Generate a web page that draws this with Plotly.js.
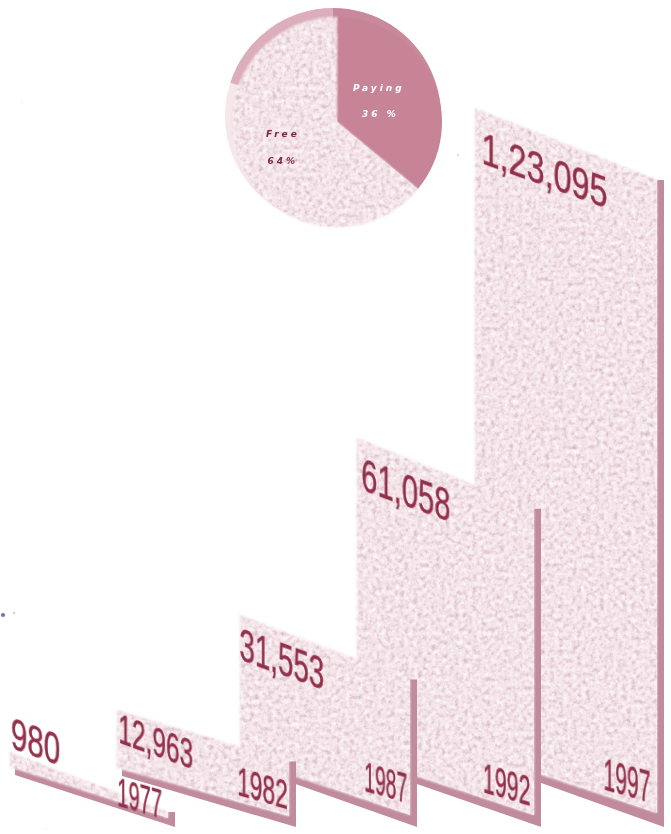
<!DOCTYPE html>
<html>
<head>
<meta charset="utf-8">
<script src="https://cdn.plot.ly/plotly-3.0.1.min.js"></script>
<style>
html,body{margin:0;padding:0;background:#fff}
#chart{width:671px;height:834px}
.annotation[data-index="10"] text,.annotation[data-index="11"] text,
.annotation[data-index="12"] text,.annotation[data-index="13"] text{letter-spacing:3px;filter:blur(0.35px)}
.scatterlayer .trace:nth-child(even) .js-fill,.pielayer .slice path{filter:url(#mottle)}
.scatterlayer .trace:nth-child(odd) .js-fill,.pielayer .trace .slice:nth-child(1) path,
.pielayer .trace:first-child .slice path{filter:url(#soft)}
</style>
</head>
<body>
<svg width="0" height="0" style="position:absolute">
  <defs>
    <filter id="soft" x="-3%" y="-3%" width="106%" height="106%">
      <feGaussianBlur in="SourceGraphic" stdDeviation="0.7"/>
    </filter>
    <filter id="mottle" x="-3%" y="-3%" width="106%" height="106%" color-interpolation-filters="sRGB">
      <feGaussianBlur in="SourceGraphic" stdDeviation="0.8" result="soft"/>
      <feTurbulence type="fractalNoise" baseFrequency="0.22" numOctaves="3" seed="4" result="n"/>
      <feGaussianBlur in="n" stdDeviation="0.6" result="nb"/>
      <feColorMatrix in="nb" type="matrix" values="0 0 0 0 0.78  0 0 0 0 0.66  0 0 0 0 0.70  1.5 0 0 0 -0.62" result="spots"/>
      <feComposite in="spots" in2="soft" operator="in" result="s"/>
      <feColorMatrix in="nb" type="matrix" values="0 0 0 0 1  0 0 0 0 1  0 0 0 0 1  0 1.6 0 0 -0.62" result="lights"/>
      <feComposite in="lights" in2="soft" operator="in" result="l"/>
      <feMerge><feMergeNode in="soft"/><feMergeNode in="s"/><feMergeNode in="l"/></feMerge>
    </filter>
  </defs>
</svg>
<div id="chart"></div>
<script>
// ---- data ----
var years = ["1977","1982","1987","1992","1997"];
var valueLabels = ["980","12,963","31,553","61,058","1,23,095"];
// bar heights as actually drawn (the picture is not to scale at the low end), in value units
var drawnValues = [2860, 11070, 27290, 60880, 123095];
var pieLabels = ["Paying","Free"];
var pieValues = [36, 64];
var pieTexts = ["36 %","64%"];

// ---- layout geometry (page pixels) ----
var W = 671, H = 834;
var unit = 123095 / 645;                 // value units per pixel
function Y(p){ return (H - p) * unit; }  // page pixel to y-axis value
var barLeft   = [10, 117, 240, 357, 475];
var barRight  = [168, 289, 410, 534, 657];
var baseLeft  = [767, 768, 758, 757, 753];
var baseRight = [818, 816, 815, 815, 813];
var topSlopes = [0.38, 0.30, 0.38, 0.40, 0.395];
var sideW = 7, floorY = 827;
// centre x, centre y, font size, horizontal squeeze
var valuePos = [[35,741,45,0.66],[156,741,43,0.57],[282,658,47,0.59],[406,489,47,0.62],[544,170,45,0.72]];
var yearPos  = [[139,798,41,0.49],[262,788,40,0.57],[385,782,42,0.46],[506,784,42,0.51],[627,780,44,0.48]];

var FACE = "#f6e5ea", SHADOW = "#c08b9d", INK = "#92304b";
var traces = [], annotations = [];

// condensed, sheared lettering of the bar labels
var css = "";
function labelStyle(idx, squeeze, skew){
  css += '.annotation[data-index="'+idx+'"] text{transform-box:fill-box;transform-origin:center;' +
         'stroke:'+INK+';stroke-width:0.5px;filter:blur(0.4px);' +
         'transform:skewY('+skew+'deg) scaleX('+squeeze+')}\n';
}
for (var k = 0; k < years.length; k++) {
  labelStyle(2*k, valuePos[k][3], 20);
  labelStyle(2*k+1, yearPos[k][3], 16);
}
var st = document.createElement("style"); st.textContent = css; document.head.appendChild(st);

function poly(xs, ys, fill){
  return {type:"scatter", mode:"lines", x:xs, y:ys, fill:"toself", fillcolor:fill,
          line:{width:0}, hoverinfo:"skip", showlegend:false};
}

// back to front: 1997 first, 1977 last
for (var i = years.length - 1; i >= 0; i--) {
  var L = barLeft[i], R = barRight[i], w = R - L;
  var topL = Y(baseLeft[i]) + drawnValues[i];
  var topR = topL - topSlopes[i] * w * unit;
  traces.push(poly(
    [R, R + sideW, R + sideW, L + 5, L + 5, R, R],
    [topR, topR, Y(floorY), Y(baseLeft[i] + 8), Y(baseLeft[i]), Y(baseRight[i]), topR],
    SHADOW));
  traces.push(poly([L, R, R, L, L], [topL, topR, Y(baseRight[i]), Y(baseLeft[i]), topL], FACE));
}

// small stray marks in the picture
traces.push({type:"scatter", mode:"markers", x:[3,14,22,46,458], y:[Y(615),Y(613),Y(103),Y(829),Y(155)],
  marker:{size:[5,3,2,2,3], color:["#2b3a78","#9aa3b5","#b9b9c4","#b9b9c4","#c9bcc4"]},
  hoverinfo:"skip", showlegend:false});

function dom(cx, cy, r){
  return {x:[(cx-r)/W,(cx+r)/W], y:[1-(cy+r)/H,1-(cy-r)/H]};
}
// pie back disc, giving the rim at the upper left
traces.push({type:"pie", values:[36,44,20], sort:false, direction:"clockwise", rotation:0,
  domain:dom(333,116,108), textinfo:"none", hoverinfo:"skip", showlegend:false,
  marker:{colors:["#c88a9b","#f6e7eb","#dcaebb"], line:{width:0}}});
// pie front
traces.push({type:"pie", labels:pieLabels, values:pieValues, sort:false, direction:"clockwise", rotation:0,
  domain:dom(337,122,105), textinfo:"none", hoverinfo:"skip", showlegend:false,
  marker:{colors:["#c78497",FACE], line:{width:0}}});

function ann(text, x, y, size, family, color, weight){
  annotations.push({text:text, x:x, y:Y(y), xref:"x", yref:"y", showarrow:false, textangle:0,
    font:{family:family, size:size, color:color, weight:weight||400}});
}
var SANS = '"Liberation Sans",sans-serif';
for (var j = 0; j < years.length; j++) {
  var v = valuePos[j], a = yearPos[j];
  ann(valueLabels[j], v[0], v[1], v[2], SANS, INK);
  ann(years[j], a[0], a[1], a[2], SANS, INK);
}
var PIEF = '"DejaVu Sans",sans-serif';
ann("<i>"+pieLabels[0]+"</i>", 379, 88, 9, PIEF, "#ffffff", 700);
ann("<i>"+pieTexts[0]+"</i>", 380, 114, 9, PIEF, "#ffffff", 700);
ann("<i>"+pieLabels[1]+"</i>", 283, 134, 9, PIEF, "#7d2a42", 700);
ann("<i>"+pieTexts[1]+"</i>", 283, 161, 9, PIEF, "#7d2a42", 700);

Plotly.newPlot("chart", traces, {
  width:W, height:H, margin:{l:0,r:0,t:0,b:0},
  paper_bgcolor:"#ffffff", plot_bgcolor:"#ffffff", showlegend:false,
  xaxis:{range:[0,W], visible:false, fixedrange:true},
  yaxis:{range:[0,Y(0)], visible:false, fixedrange:true},
  annotations:annotations
}, {displayModeBar:false, staticPlot:true});
</script>
</body>
</html>
